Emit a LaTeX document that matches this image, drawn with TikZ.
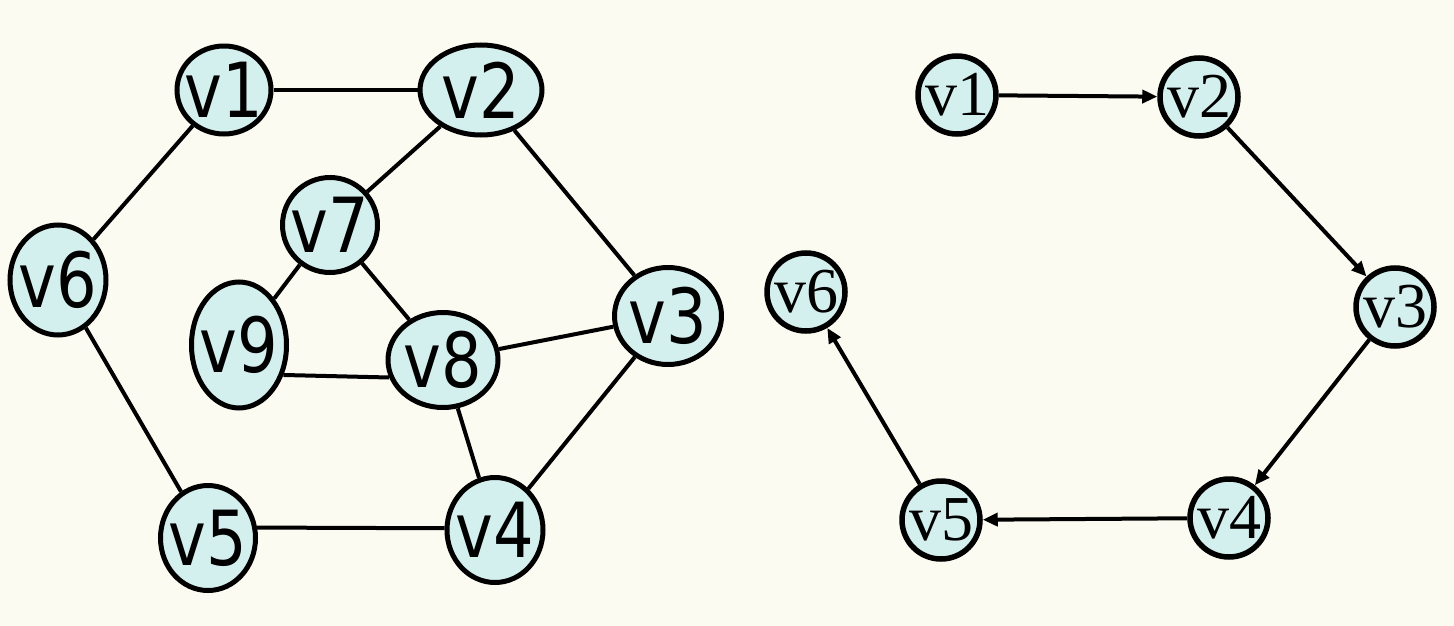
\documentclass[tikz,border=0pt]{standalone}
\usepackage{fontspec}
\usepackage{tikz}
\usetikzlibrary{arrows.meta,shapes.geometric}
\newfontfamily\gvsans[FakeStretch=0.84]{DejaVu Sans}
\newfontfamily\gvserif{Liberation Serif}
\definecolor{gvback}{RGB}{251,251,241}
\definecolor{gvfill}{RGB}{212,240,238}
\tikzset{
  gvell/.style={draw=black, line width=5pt, ellipse, fill=gvfill, inner sep=0pt},
  gvcirc/.style={draw=black, line width=5.5pt, circle, fill=gvfill, inner sep=0pt, minimum size=78pt},
  gvedge/.style={line width=4pt, draw=black},
  gvarr/.style={-{Triangle[length=15pt,width=13pt]}, line width=4pt, draw=black}
}

\begin{document}
\begin{tikzpicture}[x=1pt, y=-1pt]
  \fill[gvback] (0,0) rectangle (1454,626);
  \useasboundingbox (0,0) rectangle (1454,626);

  % undirected graph
  \begin{scope}[every label/.style={font=\gvsans\fontsize{76}{76}\selectfont, inner sep=0pt}]
    \node[gvell, minimum width=94pt, minimum height=88pt, label=center:v1] (a1) at (224,90) {};
    \node[gvell, minimum width=122pt, minimum height=90pt, label=center:v2] (a2) at (481,90) {};
    \node[gvell, minimum width=107pt, minimum height=97pt, label=center:v3] (a3) at (668,316) {};
    \node[gvell, minimum width=96pt, minimum height=105pt, label=center:v4] (a4) at (495,530) {};
    \node[gvell, minimum width=95pt, minimum height=105pt, label=center:v5] (a5) at (208,538) {};
    \node[gvell, minimum width=96pt, minimum height=110pt, label=center:v6] (a6) at (58,280) {};
    \node[gvell, minimum width=95pt, minimum height=95pt, label=center:v7] (a7) at (330,225) {};
    \node[gvell, minimum width=110pt, minimum height=95pt, label=center:v8] (a8) at (443,360) {};
    \node[gvell, minimum width=95pt, minimum height=126pt, label=center:v9] (a9) at (239,345) {};
  \end{scope}
  \draw[gvedge] (a1) -- (a2);
  \draw[gvedge] (a1) -- (a6);
  \draw[gvedge] (a2) -- (a7);
  \draw[gvedge] (a2) -- (a3);
  \draw[gvedge] (a6) -- (a5);
  \draw[gvedge] (a7) -- (a9);
  \draw[gvedge] (a7) -- (a8);
  \draw[gvedge] (a9.-34) -- (a8.198);
  \draw[gvedge] (a8) -- (a3);
  \draw[gvedge] (a8) -- (a4);
  \draw[gvedge] (a3) -- (a4);
  \draw[gvedge] (a5.12) -- (a4.178);

  % directed path
  \begin{scope}[every label/.style={font=\gvserif\fontsize{64}{64}\selectfont, inner sep=0pt}]
    \node[gvcirc, label=center:v1] (b1) at (957,95) {};
    \node[gvcirc, label=center:v2] (b2) at (1199,97) {};
    \node[gvcirc, label=center:v3] (b3) at (1395,307) {};
    \node[gvcirc, label=center:v4] (b4) at (1229,518) {};
    \node[gvcirc, label=center:v5] (b5) at (941,520) {};
    \node[gvcirc, label=center:v6] (b6) at (806,292) {};
  \end{scope}
  \draw[gvarr] (b1) -- (b2);
  \draw[gvarr] (b2) -- (b3);
  \draw[gvarr] (b3) -- (b4);
  \draw[gvarr] (b4) -- (b5);
  \draw[gvarr] (b5) -- (b6);
\end{tikzpicture}
\end{document}
